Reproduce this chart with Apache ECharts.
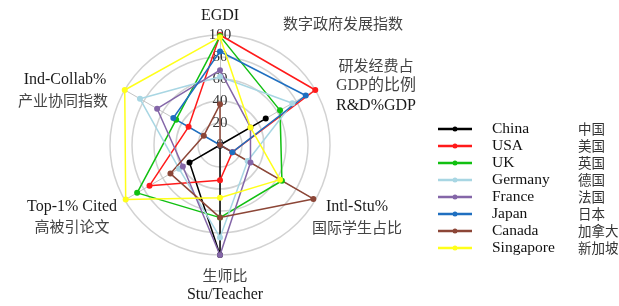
<!DOCTYPE html>
<html><head><meta charset="utf-8">
<script src="https://cdn.jsdelivr.net/npm/echarts@6/dist/echarts.min.js"></script>
<style>html,body{margin:0;padding:0;background:#fff}#c{width:619px;height:306px}</style>
</head><body><div id="c"></div>
<script>
// ---- data (clockwise from top: EGDI, R&D, Intl-Stu, Stu/Teacher, Top-1%, Ind-Collab) ----
const axisEn = ['EGDI', 'R&D%GDP', 'Intl-Stu%', 'Stu/Teacher', 'Top-1% Cited', 'Ind-Collab%'];
const axisZh = ['数字政府发展指数', '研发经费占GDP的比例', '国际学生占比', '生师比', '高被引论文', '产业协同指数'];
const countriesEn = ['China', 'USA', 'UK', 'Germany', 'France', 'Japan', 'Canada', 'Singapore'];
const countriesZh = ['中国', '美国', '英国', '德国', '法国', '日本', '加拿大', '新加坡'];
const china     = [0, 48, 0, 100, 32, 0];
const usa       = [100, 100, 13, 32, 74, 33];
const uk        = [99, 63, 65, 66, 87, 46];
const germany   = [62, 76, 29, 84, 43, 84];
const france    = [68, 32, 32, 100, 39, 66];
const japan     = [85, 90, 13, 0, 0, 49];
const canada    = [37, 0, 98, 66, 52, 17];
const singapore = [98, 32, 63, 48, 99, 100];
const tickValues = [0, 20, 40, 60, 80, 100];

// ---- styles ----
const colors = ['#000000', '#ff1a1a', '#11c011', '#a8d6e3', '#8466a8', '#1f6fc0', '#8c4637', '#ffff1a'];
const serif = '"Liberation Serif", "Times New Roman", serif';
const cjk = '"Noto Sans CJK SC", sans-serif';
const mixed = '"Liberation Serif", "Noto Sans CJK SC", serif';

// ECharts radar runs counter-clockwise; reorder so the picture reads clockwise like the reference
const order = [0, 5, 4, 3, 2, 1];
const allData = [china, usa, uk, germany, france, japan, canada, singapore];
const zhOf = {};
countriesEn.forEach((n, i) => zhOf[n] = countriesZh[i]);

const indicator = order.map((k, j) => {
  const ind = { name: axisEn[k], min: tickValues[0], max: tickValues[tickValues.length - 1] };
  if (j === 0) {
    ind.axisLabel = { show: true, margin: 0, align: 'center', verticalAlign: 'middle',
      fontFamily: serif, fontSize: 15, color: '#333' };
  }
  return ind;
});

// axis-name text placement (pixel layout, separate from data)
const nameLayout = [
  [{ t: axisEn[0], x: 220, y: 16, f: serif, s: 16 }, { t: axisZh[0], x: 343, y: 23, f: cjk, s: 15 }],
  [{ t: '研发经费占', x: 376, y: 65, f: cjk, s: 15 }, { t: 'GDP的比例', x: 376, y: 86, f: mixed, s: 16 }, { t: axisEn[1], x: 376, y: 106, f: serif, s: 16 }],
  [{ t: axisEn[2], x: 357, y: 207, f: serif, s: 16 }, { t: axisZh[2], x: 357, y: 227, f: cjk, s: 15 }],
  [{ t: axisZh[3], x: 225, y: 275, f: cjk, s: 15 }, { t: axisEn[3], x: 225, y: 295, f: serif, s: 16 }],
  [{ t: axisEn[4], x: 72, y: 207, f: serif, s: 16 }, { t: axisZh[4], x: 72, y: 226, f: cjk, s: 15 }],
  [{ t: axisEn[5], x: 65, y: 80, f: serif, s: 16 }, { t: axisZh[5], x: 63, y: 100, f: cjk, s: 15 }]
];
const graphics = [];
nameLayout.forEach(grp => grp.forEach(o => {
  graphics.push({ type: 'text', x: o.x, y: o.y, silent: true,
    style: { text: o.t, font: o.s + 'px ' + o.f, fill: o.f === serif ? '#1a1a1a' : '#444',
      align: 'center', verticalAlign: 'middle' } });
}));

const chart = echarts.init(document.getElementById('c'), null, { renderer: 'canvas' });
chart.setOption({
  animation: false,
  backgroundColor: '#fff',
  color: colors,
  radar: {
    center: [220, 145],
    radius: 110,
    startAngle: 90,
    splitNumber: 5,
    shape: 'circle',
    indicator: indicator,
    axisName: { show: false },
    axisTick: { show: false },
    splitArea: { show: false },
    splitLine: { lineStyle: { color: '#d2d2d2', width: 1.5 } },
    axisLine: { lineStyle: { color: '#c4c4c4', width: 1 } }
  },
  legend: {
    orient: 'vertical',
    left: 433,
    top: 116,
    itemWidth: 34,
    itemHeight: 8,
    itemGap: 1,
    icon: 'path://M0,2.8H34V5.2H0Z M14.5,4A2.5,2.5 0 1 1 19.5,4A2.5,2.5 0 1 1 14.5,4Z',
    data: countriesEn,
    formatter: n => '{en|' + n + '}{zh|' + zhOf[n] + '}',
    textStyle: {
      rich: {
        en: { fontFamily: serif, fontSize: 15.5, color: '#111', lineHeight: 14, width: 86, padding: [0, 0, 0, 15] },
        zh: { fontFamily: cjk, fontSize: 13.5, color: '#333', lineHeight: 14 }
      }
    }
  },
  graphic: graphics,
  series: countriesEn.map((n, i) => ({
    type: 'radar',
    name: n,
    symbol: 'circle',
    symbolSize: 6,
    lineStyle: { width: 1.5, color: colors[i] },
    itemStyle: { color: colors[i] },
    data: [{ name: n, value: order.map(k => allData[i][k]) }]
  }))
});
</script>
</body></html>
